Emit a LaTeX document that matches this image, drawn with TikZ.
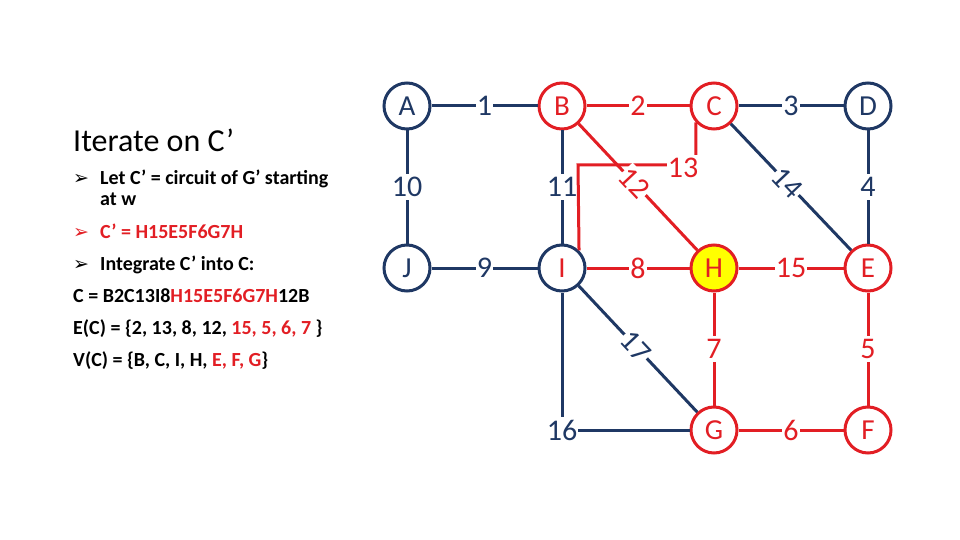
\documentclass[tikz,border=0pt]{standalone}
\usepackage{fontspec}
\setmainfont{Carlito}
\newfontfamily\symf{DejaVu Sans}
\definecolor{navy}{RGB}{31,56,100}
\definecolor{myred}{RGB}{226,30,36}
\definecolor{myyellow}{RGB}{255,255,0}
\tikzset{
  vtx/.style={circle,draw,line width=3pt,minimum size=46pt,inner sep=0pt,fill=white,font=\fontsize{29}{29}\selectfont},
  nvtx/.style={vtx,draw=navy,text=navy},
  rvtx/.style={vtx,draw=myred,text=myred},
  ne/.style={draw=navy,line width=3pt},
  re/.style={draw=myred,line width=3pt},
  lbl/.style={fill=white,inner xsep=1pt,inner ysep=3pt,font=\fontsize{30}{30}\selectfont},
  nl/.style={lbl,text=navy},
  rl/.style={lbl,text=myred},
  txt/.style={anchor=base west,inner sep=0pt,font=\bfseries\fontsize{20}{20}\selectfont},
  arr/.style={anchor=base west,inner sep=0pt,font=\symf\fontsize{19}{19}\selectfont},
}
\begin{document}
\begin{tikzpicture}[x=1pt,y=-1pt]
\useasboundingbox (0,0) rectangle (960,540);
% vertices
\node[nvtx] (A) at (407,106) {A};
\node[rvtx] (B) at (562,106) {B};
\node[rvtx] (C) at (714,106) {C};
\node[nvtx] (D) at (868,106) {D};
\node[nvtx] (J) at (407,268) {J};
\node[nvtx] (I) at (562,268) {\textcolor{myred}{I}};
\node[rvtx,fill=myyellow] (H) at (714,268) {H};
\node[rvtx] (E) at (868,268) {E};
\node[rvtx] (G) at (714,430) {G};
\node[rvtx] (F) at (868,430) {F};
\coordinate (k13) at (578,165);
% navy edges
\draw[ne] (A) -- node[nl] {1} (B);
\draw[ne] (C) -- node[nl] {3} (D);
\draw[ne] (A) -- node[nl] {10} (J);
\draw[ne] (B) -- node[nl] {11} (I);
\draw[ne] (D) -- node[nl] {4} (E);
\draw[ne] (J) -- node[nl] {9} (I);
\draw[ne] (C) -- node[nl,sloped,pos=0.47] {14} (E);
\draw[ne] (I) -- node[nl,sloped,pos=0.48] {17} (G);
\draw[ne] (I) |- node[nl,pos=0.5] {16} (G);
% red edges
\draw[re] (B) -- node[rl] {2} (C);
\draw[re] (C.222) |- (k13) -- (I.46);
\node[rl] (l13) at (683,168) {13};
\draw[re] (B) -- node[rl,sloped,pos=0.47] {12} (H);
\draw[re] (I) -- node[rl] {8} (H);
\draw[re] (H) -- node[rl] {15} (E);
\draw[re] (H) -- node[rl] {7} (G);
\draw[re] (E) -- node[rl] {5} (F);
\draw[re] (G) -- node[rl] {6} (F);
% left text
\node[anchor=base west,inner sep=0pt,font=\fontsize{32}{32}\selectfont] (title) at (73,152) {Iterate on C’};
\node[arr] (b1) at (73,184) {➢};
\node[txt] (t1) at (100,184) {Let C’ = circuit of G’ starting};
\node[txt] (t1b) at (100,205) {at w};
\node[arr,text=myred] (b2) at (73,238) {➢};
\node[txt,text=myred] (t2) at (100,238) {C’ = H15E5F6G7H};
\node[arr] (b3) at (73,270) {➢};
\node[txt] (t3) at (100,270) {Integrate C’ into C:};
\node[txt] (t4) at (73,302) {C = B2C13I8\textcolor{myred}{H15E5F6G7H}12B};
\node[txt] (t5) at (73,334) {E(C) = \{2, 13, 8, 12, \textcolor{myred}{15, 5, 6, 7} \}};
\node[txt] (t6) at (73,366) {V(C) = \{B, C, I, H, \textcolor{myred}{E, F, G}\}};
\end{tikzpicture}
\end{document}
